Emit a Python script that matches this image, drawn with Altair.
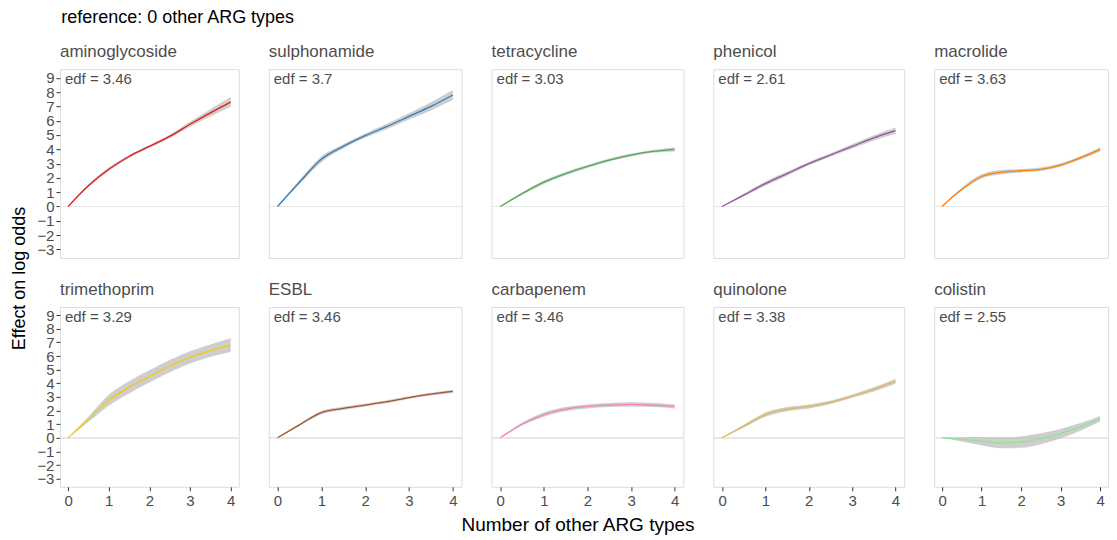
import altair as alt
import pandas as pd

types = ["aminoglycoside", "sulphonamide", "tetracycline", "phenicol", "macrolide",
         "trimethoprim", "ESBL", "carbapenem", "quinolone", "colistin"]
colors = ["#E41A1C", "#377EB8", "#4DAF4A", "#984EA3", "#FF7F00",
          "#F2CC0C", "#A65628", "#F781BF", "#E5B55A", "#8EE58E"]
edf_vals = ["3.46", "3.7", "3.03", "2.61", "3.63", "3.29", "3.46", "3.46", "3.38", "2.55"]

x_vals = [0, 0.5, 1, 1.5, 2, 2.5, 3, 3.5, 4]

fit_aminoglycoside = [0, 1.45, 2.6, 3.5, 4.2, 4.9, 5.75, 6.55, 7.3]
fit_sulphonamide = [0, 1.7, 3.3, 4.2, 4.95, 5.6, 6.3, 7.0, 7.8]
fit_tetracycline = [0, 0.9, 1.7, 2.3, 2.8, 3.25, 3.6, 3.85, 4.0]
fit_phenicol = [0, 0.8, 1.6, 2.3, 3.0, 3.6, 4.2, 4.8, 5.3]
fit_macrolide = [0, 1.2, 2.1, 2.4, 2.5, 2.6, 2.9, 3.4, 4.0]
fit_trimethoprim = [0, 1.35, 2.75, 3.7, 4.5, 5.25, 5.9, 6.4, 6.8]
fit_esbl = [0, 0.95, 1.85, 2.15, 2.4, 2.65, 2.95, 3.2, 3.4]
fit_carbapenem = [0, 1.0, 1.7, 2.1, 2.3, 2.4, 2.45, 2.4, 2.3]
fit_quinolone = [0, 0.85, 1.7, 2.1, 2.3, 2.6, 3.05, 3.55, 4.15]
fit_colistin = [0, -0.12, -0.25, -0.37, -0.32, -0.07, 0.3, 0.8, 1.4]

se_aminoglycoside = [0, 0.1, 0.12, 0.1, 0.1, 0.12, 0.18, 0.25, 0.35]
se_sulphonamide = [0, 0.15, 0.2, 0.15, 0.15, 0.18, 0.22, 0.28, 0.35]
se_tetracycline = [0, 0.08, 0.12, 0.12, 0.1, 0.1, 0.1, 0.1, 0.15]
se_phenicol = [0, 0.1, 0.15, 0.15, 0.12, 0.12, 0.15, 0.18, 0.22]
se_macrolide = [0, 0.1, 0.15, 0.15, 0.12, 0.12, 0.12, 0.12, 0.15]
se_trimethoprim = [0, 0.2, 0.4, 0.45, 0.45, 0.45, 0.45, 0.45, 0.5]
se_esbl = [0, 0.08, 0.12, 0.12, 0.1, 0.1, 0.1, 0.1, 0.12]
se_carbapenem = [0, 0.1, 0.15, 0.15, 0.15, 0.15, 0.15, 0.15, 0.15]
se_quinolone = [0, 0.1, 0.15, 0.15, 0.15, 0.12, 0.12, 0.15, 0.18]
se_colistin = [0, 0.15, 0.3, 0.4, 0.42, 0.4, 0.35, 0.28, 0.2]

fits = [fit_aminoglycoside, fit_sulphonamide, fit_tetracycline, fit_phenicol, fit_macrolide,
        fit_trimethoprim, fit_esbl, fit_carbapenem, fit_quinolone, fit_colistin]
ses = [se_aminoglycoside, se_sulphonamide, se_tetracycline, se_phenicol, se_macrolide,
       se_trimethoprim, se_esbl, se_carbapenem, se_quinolone, se_colistin]

y_ticks = list(range(-3, 10))
x_ticks = [0, 1, 2, 3, 4]

rows = []
for t, f, s in zip(types, fits, ses):
    for x, v, e in zip(x_vals, f, s):
        rows.append({"type": t, "x": x, "fit": v, "lo": v - e, "hi": v + e})
df = pd.DataFrame(rows)
edf_df = pd.DataFrame({"type": types, "edf": edf_vals})

FONT = "Liberation Sans"
widths = [179, 193, 192, 191, 174]
heights = [189, 180]


def panel(i):
    t = types[i]
    r, c = divmod(i, 5)
    xscale = alt.Scale(domain=[-0.2, 4.2], nice=False, zero=False)
    yscale = alt.Scale(domain=[-3.6, 9.6], nice=False, zero=False)
    common = dict(labelFont=FONT, labelFontSize=15, labelColor="#4D4D4D", tickColor="#333333",
                  tickSize=4, domain=False, grid=False, labelOverlap=False,
                  labelFlush=False, titleFont=FONT, titleColor="#000000",
                  titleFontWeight="normal")
    if r == 1:
        if i == 7:
            xaxis = alt.Axis(values=x_ticks, format="d", title="Number of other ARG types",
                             titleX=86, titlePadding=7, titleFontSize=19, labelPadding=3,
                             **common)
        else:
            xaxis = alt.Axis(values=x_ticks, format="d", title=None, labelPadding=3, **common)
    else:
        xaxis = None
    if c == 0:
        if r == 0:
            yaxis = alt.Axis(values=y_ticks, format="d", title="Effect on log odds",
                             titleY=209, titlePadding=8, titleFontSize=18, labelPadding=2,
                             **common)
        else:
            yaxis = alt.Axis(values=y_ticks, format="d", title=None, labelPadding=2, **common)
    else:
        yaxis = None

    base = alt.Chart(df).transform_filter(alt.datum.type == t)
    X = alt.X("x:Q", scale=xscale, axis=xaxis)
    rule = alt.Chart(df).transform_filter(alt.datum.type == t).mark_rule(
        color="#E6E6E6", strokeWidth=1).encode(y=alt.datum(0, scale=yscale, axis=yaxis))
    band = base.mark_area(color="#C2C2C2", opacity=0.8, interpolate="monotone").encode(
        x=X, y=alt.Y("lo:Q", scale=yscale, axis=yaxis), y2="hi:Q")
    line = base.mark_line(color=colors[i], strokeWidth=1.3, interpolate="monotone").encode(
        x=X, y=alt.Y("fit:Q", scale=yscale, axis=yaxis))
    txt = alt.Chart(edf_df).transform_filter(alt.datum.type == t).transform_calculate(
        label="'edf = ' + datum.edf").mark_text(
        align="left", baseline="middle", font=FONT, fontSize=15, color="#4D4D4D").encode(
        x=alt.value(5), y=alt.value(10), text="label:N")
    return alt.layer(rule, band, line, txt).properties(
        width=widths[c], height=heights[r],
        title=alt.TitleParams(t, anchor="start", frame="group", font=FONT, fontSize=17,
                              color="#4D4D4D", fontWeight="normal", offset=8))


chart = alt.concat(*[panel(i) for i in range(10)], columns=5, align="each",
                   spacing={"row": 49, "column": 30}, bounds="flush").properties(
    title=alt.TitleParams("reference: 0 other ARG types", anchor="start", font=FONT,
                          fontSize=18, color="#000000", fontWeight="normal", dx=51, offset=16),
    padding={"left": 2, "top": 0, "right": 0, "bottom": 0},
).configure_view(stroke="#8A8A8A", strokeWidth=1).configure(background="white")

chart.save("out.html", embed_options={"renderer": "svg", "actions": False})
